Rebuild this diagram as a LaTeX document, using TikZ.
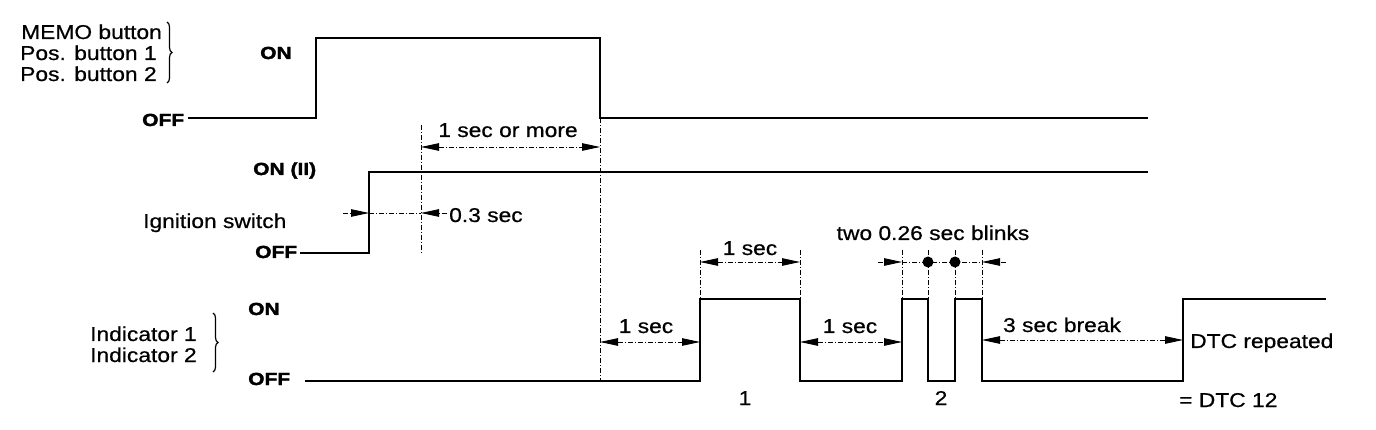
\documentclass[tikz,border=0pt]{standalone}
\usepackage{fontspec}
\setmainfont[FakeStretch=1.14,FakeBold=0.6]{Liberation Sans}
\newfontfamily\onofffont[FakeStretch=1.2,FakeBold=1.8]{Liberation Sans}
\usetikzlibrary{arrows.meta,decorations.pathreplacing}
\begin{document}
\begin{tikzpicture}[x=1pt,y=-1pt,
  sig/.style={line width=2.3pt, line join=miter},
  guide/.style={line width=0.8pt, dash pattern=on 5pt off 2pt on 1pt off 2pt},
  dimarrow/.style={guide, -{Triangle[length=18pt,width=7.5pt]}},
  dimboth/.style={guide, {Triangle[length=18pt,width=7.5pt]}-{Triangle[length=18pt,width=7.5pt]}},
  lbl/.style={font=\fontsize{20}{22}\selectfont, inner sep=0pt},
  state/.style={font=\onofffont\bfseries\fontsize{17.5}{18}\selectfont, inner sep=0pt, anchor=base west},
  bracestyle/.style={decorate, decoration={brace, amplitude=5pt}, line width=1.2pt},
]
\path[use as bounding box] (0,0) rectangle (1376,430);

% ---- signals
\draw[sig] (188,118) -- (316,118) -- (316,38) -- (600,38) -- (600,118) -- (1148,118);
\draw[sig] (300,253) -- (369,253) -- (369,172) -- (1148,172);
\draw[sig] (305,381) -- (700,381) -- (700,299) -- (800,299) -- (800,381)
  -- (902,381) -- (902,299) -- (928,299) -- (928,381) -- (955,381)
  -- (955,299) -- (982,299) -- (982,381) -- (1183,381) -- (1183,299) -- (1326,299);

% ---- left labels
\node[lbl, anchor=base west] (memo) at (21,39) {MEMO button};
\node[lbl, anchor=base west] (pos1) at (20,60) {Pos. button 1};
\node[lbl, anchor=base west] (pos2) at (20,81) {Pos. button 2};
\draw[bracestyle] (167,22) -- (167,83);
\node[lbl, anchor=base west] (ign) at (143,228) {Ignition switch};
\node[lbl, anchor=base west] (ind1) at (90,341) {Indicator 1};
\node[lbl, anchor=base west] (ind2) at (90,362) {Indicator 2};
\draw[bracestyle] (213,313) -- (213,372);

% ---- state labels
\node[state] (on1) at (260,59) {ON};
\node[state] (off1) at (142,126) {OFF};
\node[state] (on2) at (253,175) {ON (II)};
\node[state] (off2) at (255,258) {OFF};
\node[state] (on3) at (248,315) {ON};
\node[state] (off3) at (248,385) {OFF};

% ---- guide lines
\draw[guide] (421,125) -- (421,253);
\draw[guide] (600,118) -- (600,380);
\foreach \gx in {700,800,902,928,955,982} \draw[guide] (\gx,250) -- (\gx,299);

% ---- named dimension points
\coordinate (a1) at (421,147); \coordinate (a2) at (600,147);
\coordinate (b0) at (343,213); \coordinate (b1) at (369,213);
\coordinate (b2) at (421,213); \coordinate (b3) at (447,213);
\coordinate (c1) at (700,262); \coordinate (c2) at (800,262);
\coordinate (d0) at (878,262); \coordinate (d1) at (902,262);
\coordinate (d2) at (982,262); \coordinate (d3) at (1006,262);
\coordinate (e1) at (600,342); \coordinate (e2) at (700,342);
\coordinate (f1) at (800,342); \coordinate (f2) at (902,342);
\coordinate (g1) at (982,340); \coordinate (g2) at (1183,340);

\draw[dimboth] (a1) -- (a2);
\draw[dimarrow] (b0) -- (b1);
\draw[guide] (b1) -- (b2);
\draw[dimarrow] (b3) -- (b2);
\draw[dimboth] (c1) -- (c2);
\draw[dimarrow] (d0) -- (d1);
\draw[guide] (d1) -- (d2);
\draw[dimarrow] (d3) -- (d2);
\fill (928,262) circle (5.5pt);
\fill (955,262) circle (5.5pt);
\draw[dimboth] (e1) -- (e2);
\draw[dimboth] (f1) -- (f2);
\draw[dimboth] (g1) -- (g2);

% ---- dimension labels
\node[lbl, anchor=base] (t1) at (508,137) {1 sec or more};
\node[lbl, anchor=base west] (t2) at (449,222) {0.3 sec};
\node[lbl, anchor=base] (t3) at (750,255) {1 sec};
\node[lbl, anchor=base] (t4) at (933,240) {two 0.26 sec blinks};
\node[lbl, anchor=base] (t5) at (646,333) {1 sec};
\node[lbl, anchor=base] (t6) at (850,333) {1 sec};
\node[lbl, anchor=base] (t7) at (1062,332) {3 sec break};
\node[lbl, anchor=base west] (t8) at (1190,348) {DTC repeated};
\node[lbl, anchor=base west] (t9) at (1179,407) {= DTC 12};
\node[lbl, anchor=base] (n1) at (745,405) {1};
\node[lbl, anchor=base] (n2) at (941,405) {2};
\end{tikzpicture}
\end{document}
